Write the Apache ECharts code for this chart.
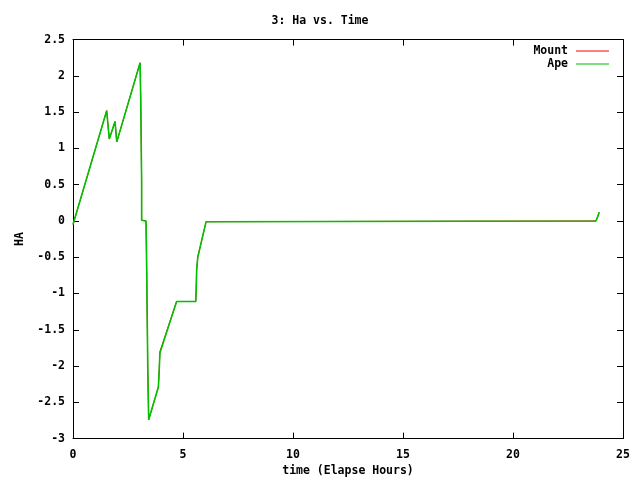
<!DOCTYPE html>
<html><head><meta charset="utf-8">
<script src="https://cdn.jsdelivr.net/npm/echarts@6/dist/echarts.min.js"></script>
<style>html,body{margin:0;padding:0;background:#fff}#c{width:640px;height:480px}</style>
</head><body><div id="c"></div>
<script>
var timeHours = [0, 1.53, 1.65, 1.91, 1.99, 3.05, 3.08, 3.12, 3.12, 3.32, 3.35, 3.40, 3.44, 3.88, 3.92, 3.95, 4.71, 5.58, 5.60, 5.62, 5.67, 6.05, 6.08, 23.77, 23.85, 23.92];
var mountHA   = [-0.05, 1.52, 1.13, 1.37, 1.09, 2.18, 1.65, 0.54, 0.01, 0.0, -0.68, -2.06, -2.74, -2.29, -2.05, -1.80, -1.11, -1.11, -0.95, -0.68, -0.50, -0.01, 0.0, 0.0, 0.06, 0.12];
var apeHA     = [-0.05, 1.52, 1.13, 1.37, 1.09, 2.18, 1.65, 0.54, 0.01, 0.0, -0.68, -2.06, -2.74, -2.29, -2.05, -1.82, -1.11, -1.11, -0.95, -0.68, -0.50, -0.01, 0.0, 0.0, 0.06, 0.12];
var xTicks = [0, 5, 10, 15, 20, 25];
var yTicks = [-3, -2.5, -2, -1.5, -1, -0.5, 0, 0.5, 1, 1.5, 2, 2.5];

function pairs(xs, ys){ return xs.map(function(x,i){ return [x, ys[i]]; }); }
var font = 'DejaVu Sans Mono';
var txt = {fontFamily: font, fontWeight: 'bold', fontSize: 11.5, color: '#000'};
var chart = echarts.init(document.getElementById('c'), null, {renderer: 'canvas'});
chart.setOption({
  animation: false,
  backgroundColor: '#fff',
  title: {text: '3: Ha vs. Time', left: 'center', top: 10, textStyle: Object.assign({}, txt)},
  legend: {
    orient: 'vertical', right: 26, top: 40, align: 'right', itemGap: 1,
    itemWidth: 33, itemHeight: 12,
    textStyle: Object.assign({}, txt, {padding: [0, 3, 0, 0]}),
    data: [
      {name: 'Mount', icon: 'path://M0,5.5 L33,5.5 L33,6.5 L0,6.5 Z'},
      {name: 'Ape', icon: 'path://M0,5.5 L33,5.5 L33,6.5 L0,6.5 Z'}
    ]
  },
  grid: {left: 73, right: 17, top: 39.6, bottom: 41.4, containLabel: false, outerBoundsMode: 'none'},
  xAxis: [{
    type: 'value', min: 0, max: 25, interval: 5,
    name: 'time (Elapse Hours)', nameLocation: 'middle', nameGap: 26, nameTextStyle: Object.assign({}, txt),
    axisLine: {show: true, onZero: false, lineStyle: {color: '#000', width: 1}},
    axisTick: {show: true, inside: true, length: 6, lineStyle: {color: '#000'}},
    axisLabel: Object.assign({margin: 10}, txt),
    splitLine: {show: false}
  }, {
    type: 'value', min: 0, max: 25, interval: 5, position: 'top',
    axisLine: {show: true, onZero: false, lineStyle: {color: '#000', width: 1}},
    axisTick: {show: true, inside: true, length: 6, lineStyle: {color: '#000'}},
    axisLabel: {show: false}, splitLine: {show: false}
  }],
  yAxis: [{
    type: 'value', min: -3, max: 2.5, interval: 0.5,
    name: 'HA', nameLocation: 'middle', nameGap: 39, nameTextStyle: Object.assign({}, txt),
    axisLine: {show: true, onZero: false, lineStyle: {color: '#000', width: 1}},
    axisTick: {show: true, inside: true, length: 6, lineStyle: {color: '#000'}},
    axisLabel: Object.assign({margin: 8}, txt),
    splitLine: {show: false}
  }, {
    type: 'value', min: -3, max: 2.5, interval: 0.5, position: 'right',
    axisLine: {show: true, onZero: false, lineStyle: {color: '#000', width: 1}},
    axisTick: {show: true, inside: true, length: 6, lineStyle: {color: '#000'}},
    axisLabel: {show: false}, splitLine: {show: false}
  }],
  series: [
    {name: 'Mount', type: 'line', data: pairs(timeHours, mountHA), symbol: 'none', color: '#ff0000',
     lineStyle: {color: '#ff0000', width: 1}, z: 2},
    {name: 'Ape', type: 'line', data: pairs(timeHours, apeHA), symbol: 'none', color: '#00c000',
     lineStyle: {color: '#00c000', width: 1.6}, z: 3}
  ]
});
</script></body></html>
